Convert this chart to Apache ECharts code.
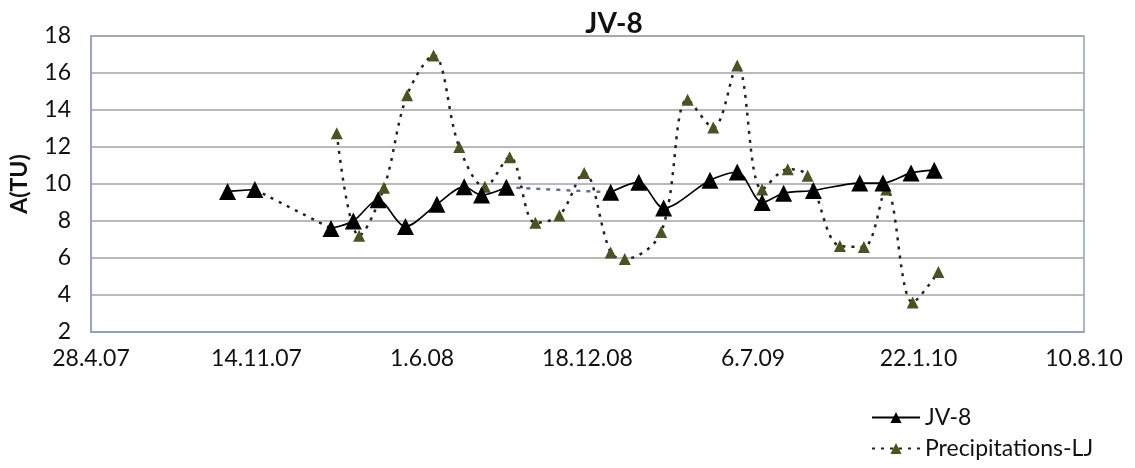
<!DOCTYPE html>
<html>
<head>
<meta charset="utf-8">
<script src="https://cdn.jsdelivr.net/npm/echarts@6/dist/echarts.min.js"></script>
<style>
  html, body { margin: 0; padding: 0; background: #fff; }
  #main { width: 1135px; height: 468px; }
</style>
</head>
<body>
<div id="main"></div>
<script>
// JV-8 measurements (date, A in TU)
var jvDates = ['2007-10-10', '2007-11-12', '2008-02-12', '2008-03-10', '2008-04-09', '2008-05-12',
    '2008-06-19', '2008-07-22', '2008-08-12', '2008-09-11', '2009-01-15', '2009-02-18',
    '2009-03-20', '2009-05-15', '2009-06-17', '2009-07-17', '2009-08-12', '2009-09-17',
    '2009-11-12', '2009-12-10', '2010-01-13', '2010-02-10'];
var jvValues = [9.6, 9.7, 7.6, 8.0, 9.15, 7.7, 8.9, 9.85, 9.4, 9.82, 9.55, 10.1,
    8.7, 10.2, 10.65, 9.0, 9.5, 9.65, 10.05, 10.05, 10.6, 10.75];
// indices after which JV-8 has a sampling gap (drawn dotted)
var jvGaps = [1, 9];

// Precipitations Ljubljana
var precipDates = ['2008-02-19', '2008-03-17', '2008-04-16', '2008-05-14', '2008-06-15', '2008-07-16',
    '2008-08-16', '2008-09-15', '2008-10-16', '2008-11-14', '2008-12-14', '2009-01-15',
    '2009-02-01', '2009-03-17', '2009-04-18', '2009-05-19', '2009-06-17', '2009-07-17',
    '2009-08-17', '2009-09-10', '2009-10-19', '2009-11-17', '2009-12-14', '2010-01-15',
    '2010-02-15'];
var precipValues = [12.75, 7.2, 9.8, 14.8, 16.95, 12.0, 9.85, 11.45, 7.9, 8.3, 10.6, 6.3,
    5.95, 7.4, 14.55, 13.05, 16.4, 9.7, 10.8, 10.45, 6.65, 6.6, 9.7, 3.6,
    5.25];

var xStart = '2007-04-28', xEnd = '2010-08-10', xStepDays = 200;
var yMin = 2, yMax = 18, yStep = 2;

var DAY = 86400000;
function ts(s) {
    var p = s.split('-');
    return Date.UTC(+p[0], +p[1] - 1, +p[2]);
}
function fmtDate(v) {
    var d = new Date(v);
    return d.getUTCDate() + '.' + (d.getUTCMonth() + 1) + '.' + String(d.getUTCFullYear()).slice(2);
}

// main JV-8 line, broken at the gaps
var jvMain = [];
var gapBlack = [], gapBlue = [];
for (var i = 0; i < jvDates.length; i++) {
    jvMain.push([ts(jvDates[i]), jvValues[i]]);
    if (jvGaps.indexOf(i) >= 0) {
        jvMain.push([ts(jvDates[i]) + DAY, '-']);
        var seg = i === jvGaps[0] ? gapBlack : gapBlue;
        seg.push([ts(jvDates[i]), jvValues[i]], [ts(jvDates[i + 1]), jvValues[i + 1]]);
    }
}
var precipData = precipDates.map(function (d, i) { return [ts(d), precipValues[i]]; });

var chart = echarts.init(document.getElementById('main'), null, { renderer: 'canvas' });
var font = 'Lato, "Open Sans", sans-serif';

var option = {
    backgroundColor: '#ffffff',
    animation: false,
    title: {
        text: 'JV-8',
        left: 609,
        top: 5,
        textAlign: 'center',
        textStyle: { fontFamily: font, fontSize: 28, fontWeight: 'bold', color: '#111' }
    },
    grid: {
        left: 89, right: 51, top: 36, bottom: 136,
        show: true, borderColor: '#8d9fc4', borderWidth: 1.5
    },
    legend: {
        data: ['JV-8', 'Precipitations-LJ'],
        orient: 'vertical',
        left: 866,
        top: 401,
        itemWidth: 48,
        itemHeight: 14,
        itemGap: 8,
        textStyle: { fontFamily: font, fontSize: 23, color: '#111' }
    },
    xAxis: {
        type: 'value',
        min: ts(xStart),
        max: ts(xEnd),
        interval: xStepDays * DAY,
        axisLine: { show: true, lineStyle: { color: '#8d9fc4', width: 1.5 } },
        axisTick: { show: false },
        splitLine: { show: false },
        axisLabel: {
            formatter: fmtDate,
            margin: 15,
            fontFamily: font, fontSize: 23, color: '#111'
        }
    },
    yAxis: {
        type: 'value',
        min: yMin, max: yMax, interval: yStep,
        name: 'A(TU)',
        nameLocation: 'middle',
        nameGap: 60,
        nameRotate: 90,
        nameTextStyle: { fontFamily: font, fontSize: 23, fontWeight: 'bold', color: '#111' },
        axisLine: { show: true, lineStyle: { color: '#8d9fc4', width: 1.5 } },
        axisTick: { show: false },
        splitLine: { lineStyle: { color: '#a3a3a3', width: 1.5 } },
        axisLabel: { margin: 20, fontFamily: font, fontSize: 23, color: '#111' }
    },
    series: [
        {
            name: 'gapBlack', type: 'line', data: gapBlack, smooth: 0.3,
            showSymbol: false, silent: true, z: 1,
            lineStyle: { color: '#222', width: 2.5, type: [3, 6] }
        },
        {
            name: 'gapBlue', type: 'line', data: gapBlue, smooth: 0.3,
            showSymbol: false, silent: true, z: 1,
            lineStyle: { color: '#5d6f96', width: 2.5, type: [4, 6] }
        },
        {
            name: 'Precipitations-LJ', type: 'line', data: precipData, smooth: 0.35,
            symbol: 'triangle', symbolSize: 12, z: 2,
            itemStyle: { color: '#4b5320' },
            lineStyle: { color: '#222', width: 2.5, type: [3, 6] }
        },
        {
            name: 'JV-8', type: 'line', data: jvMain, smooth: 0.3,
            connectNulls: false,
            symbol: 'triangle', symbolSize: 17, z: 3,
            itemStyle: { color: '#000' },
            lineStyle: { color: '#000', width: 1.6 }
        }
    ]
};

chart.setOption(option);
</script>
</body>
</html>
